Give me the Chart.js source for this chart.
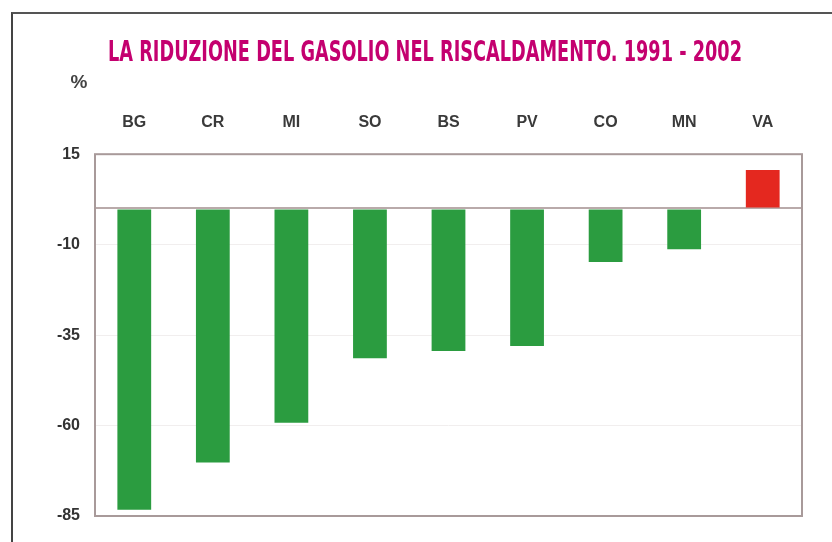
<!DOCTYPE html>
<html>
<head>
<meta charset="utf-8">
<script src="https://cdn.jsdelivr.net/npm/chart.js@4"></script>
<style>
  html, body { margin: 0; padding: 0; background: #fff; }
  #wrap { position: relative; width: 832px; height: 542px; }
  #frame { position: absolute; left: 11px; top: 12px; right: -2px; bottom: -2px;
           border-left: 2px solid #444; border-top: 2px solid #555; }
  canvas { position: absolute; left: 0; top: 0; }
</style>
</head>
<body>
<div id="wrap">
  <div id="frame"></div>
  <canvas id="c" width="832" height="542"></canvas>
</div>
<script>
const titleText = 'LA RIDUZIONE DEL GASOLIO NEL RISCALDAMENTO. 1991 - 2002';
const unitLabel = '%';
const provinces = ['BG', 'CR', 'MI', 'SO', 'BS', 'PV', 'CO', 'MN', 'VA'];
const changePct = [-83.3, -70.2, -59.2, -41.4, -39.4, -38.0, -14.8, -11.3, 10.6];
const yTickValues = [15, 0, -10, -35, -60, -85];
const yLabelled = [15, -10, -35, -60, -85];

const barColors = changePct.map(v => v >= 0 ? '#e4281f' : '#2b9c40');

const framePlugin = {
  id: 'framePlugin',
  afterDraw(chart) {
    const {ctx, chartArea: a} = chart;
    ctx.save();
    ctx.strokeStyle = '#a89a9a';
    ctx.lineWidth = 2;
    ctx.strokeRect(a.left, a.top, a.right - a.left, a.bottom - a.top);
    // unit label
    ctx.fillStyle = '#444';
    ctx.font = 'bold 19px "Liberation Sans", Arial, sans-serif';
    ctx.textAlign = 'center';
    ctx.textBaseline = 'middle';
    ctx.fillText(unitLabel, a.left - 16, a.top - 71);
    // condensed title
    ctx.font = 'bold 28px "Liberation Sans Narrow", "DejaVu Sans Condensed", sans-serif';
    ctx.fillStyle = '#c4006f';
    const w = ctx.measureText(titleText).width;
    const sx = 634 / w;
    ctx.translate(425, 54);
    ctx.scale(sx, 1);
    ctx.fillText(titleText, 0, 0);
    ctx.restore();
  }
};

new Chart(document.getElementById('c'), {
  type: 'bar',
  data: {
    labels: provinces,
    datasets: [{
      data: changePct,
      backgroundColor: barColors,
      borderWidth: 0,
      categoryPercentage: 1,
      barPercentage: 0.43
    }]
  },
  options: {
    responsive: false,
    animation: false,
    layout: { padding: { left: 18, right: 30, top: 91, bottom: 26 } },
    plugins: {
      legend: { display: false },
      tooltip: { enabled: false },
      title: { display: false }
    },
    scales: {
      x: {
        position: 'top',
        grid: { display: false, drawTicks: false },
        border: { display: false },
        ticks: {
          color: '#3a3a3a',
          font: { family: '"Liberation Sans", Arial, sans-serif', size: 16, weight: 'bold' },
          padding: 22
        }
      },
      y: {
        min: -85,
        max: 15,
        afterBuildTicks(scale) {
          scale.ticks = yTickValues.map(v => ({ value: v }));
        },
        afterFit(scale) { scale.width = 77; },
        grid: {
          drawTicks: false,
          color: ctx => (ctx.tick && ctx.tick.value === 0) ? '#b9aaaa' : '#f1eeee',
          lineWidth: ctx => (ctx.tick && ctx.tick.value === 0) ? 2 : 1
        },
        border: { display: false },
        ticks: {
          color: '#333',
          font: { family: '"Liberation Sans", Arial, sans-serif', size: 16, weight: 'bold' },
          padding: 15,
          callback: v => yLabelled.includes(v) ? String(v) : ''
        }
      }
    }
  },
  plugins: [framePlugin]
});
</script>
</body>
</html>
